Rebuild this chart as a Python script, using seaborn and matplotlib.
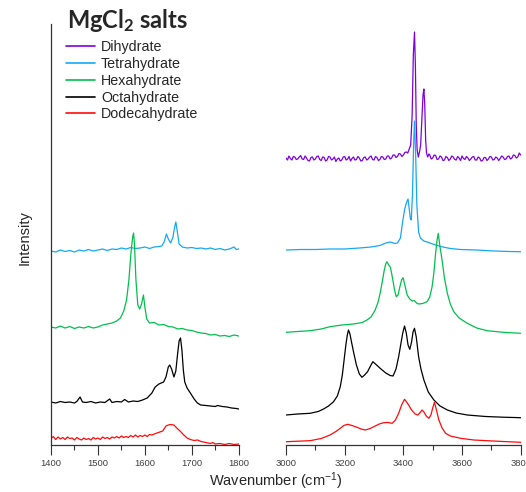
import pandas as pd
import matplotlib
matplotlib.use("Agg")
import matplotlib.pyplot as plt
import seaborn as sns
from matplotlib.lines import Line2D
from matplotlib.ticker import MultipleLocator

# Raman spectra of MgCl2 hydrates (stacked, arbitrary units)
salt_names = ["Dihydrate", "Tetrahydrate", "Hexahydrate", "Octahydrate", "Dodecahydrate"]
salt_colors = ["#7F00DF", "#14A9F5", "#00C04E", "#000000", "#FF0A0A"]

# bending region 1400-1800 cm-1 (no dihydrate trace here)
tetra_low = [(1400, 194), (1410, 193), (1420, 195), (1430, 193.5), (1440, 194.5), (1450, 193),
             (1460, 195), (1470, 194), (1480, 195.5), (1490, 194), (1500, 195), (1510, 196),
             (1520, 194.5), (1530, 196), (1540, 195.5), (1550, 197), (1560, 196), (1570, 197.5),
             (1580, 196.5), (1590, 197), (1600, 198), (1610, 196.5), (1620, 198), (1630, 198.5),
             (1636, 199), (1641, 203), (1646, 211), (1650, 206), (1655, 202), (1660, 208),
             (1663, 217), (1666, 223), (1669, 214), (1673, 201), (1680, 198), (1690, 197),
             (1700, 197.5), (1710, 196.5), (1720, 197), (1730, 196), (1740, 197), (1750, 195.5),
             (1760, 196.5), (1770, 195), (1780, 196), (1790, 198), (1795, 195.5), (1800, 196)]

hexa_low = [(1400, 118), (1410, 117), (1420, 119), (1430, 117), (1440, 118.5), (1450, 116.5),
            (1460, 118), (1470, 117), (1480, 118.5), (1490, 117), (1500, 118), (1510, 120),
            (1520, 121), (1530, 122), (1540, 124), (1548, 127), (1555, 134), (1561, 145),
            (1566, 165), (1570, 190), (1574, 208), (1576, 212), (1578, 200), (1581, 165),
            (1585, 140), (1589, 136), (1593, 141), (1597, 150), (1600, 138), (1604, 126),
            (1610, 122), (1620, 122.5), (1630, 120), (1640, 120.5), (1650, 118.5), (1660, 118),
            (1670, 116), (1680, 116.5), (1690, 115), (1700, 114.5), (1710, 113), (1720, 112),
            (1730, 111.5), (1740, 110), (1750, 110.5), (1760, 109), (1770, 109.5), (1780, 108.5),
            (1790, 110), (1800, 109)]

octa_low = [(1400, 43), (1410, 42), (1420, 43.5), (1430, 42.5), (1440, 43), (1450, 42),
            (1455, 43.5), (1462, 48), (1467, 43), (1475, 42.5), (1485, 43.5), (1495, 42),
            (1505, 43), (1515, 42.5), (1525, 46), (1530, 42.5), (1540, 43.5), (1550, 43),
            (1557, 45.5), (1565, 43), (1575, 44), (1585, 43.5), (1595, 45), (1605, 47),
            (1615, 52), (1622, 58), (1630, 61), (1640, 63), (1645, 68), (1650, 78), (1653, 80),
            (1657, 76), (1662, 68), (1666, 74), (1670, 92), (1673, 104), (1676, 107), (1679, 95),
            (1682, 75), (1685, 63), (1690, 57), (1697, 52), (1705, 46), (1712, 42), (1719, 40),
            (1730, 39.5), (1740, 39), (1750, 38.5), (1755, 39.5), (1765, 38.5), (1775, 38),
            (1785, 37), (1795, 36.5), (1800, 36)]

dodeca_low = [(1400, 6.5), (1405, 8.5), (1410, 5.5), (1415, 8), (1420, 6), (1425, 7.5),
              (1430, 5.5), (1435, 8), (1440, 6.5), (1445, 7), (1450, 5), (1455, 7.5), (1460, 6),
              (1465, 5), (1470, 7), (1475, 5.5), (1480, 6.5), (1485, 5), (1490, 7.5), (1495, 6),
              (1500, 7), (1505, 5.5), (1510, 8), (1515, 6.5), (1520, 7.5), (1525, 6), (1530, 8),
              (1535, 7), (1540, 8.5), (1545, 7), (1550, 9), (1555, 7.5), (1560, 8.5), (1565, 7.5),
              (1570, 9.5), (1575, 8), (1580, 10), (1585, 8), (1590, 9.5), (1595, 8.5), (1600, 10),
              (1605, 8.5), (1610, 10.5), (1615, 10), (1620, 11), (1626, 12), (1632, 13), (1638, 14),
              (1645, 19), (1650, 20), (1655, 20.5), (1662, 20), (1668, 17), (1676, 13.5),
              (1683, 10), (1690, 7), (1697, 5.5), (1705, 4.5), (1712, 5), (1720, 3.5), (1730, 2.5),
              (1740, 1.5), (1745, 2.5), (1750, 1), (1760, 1.5), (1770, 0.5), (1780, 1.5),
              (1790, 0.5), (1800, 1)]

# O-H stretching region 3000-3800 cm-1
di_high = [(3000, 287), (3005, 285), (3010, 289), (3015, 286.5), (3020, 285), (3025, 288.5),
           (3030, 288), (3035, 285.5), (3040, 286), (3045, 288), (3050, 289.5), (3055, 286),
           (3060, 285.5), (3065, 289), (3070, 287), (3075, 284.5), (3080, 284), (3085, 287.5),
           (3090, 288), (3095, 285), (3100, 286), (3105, 288.5), (3110, 289), (3115, 285.5),
           (3120, 284.5), (3125, 288), (3130, 287.5), (3135, 284), (3140, 285), (3145, 288.5),
           (3150, 288), (3155, 285), (3160, 286), (3165, 288), (3170, 283.5), (3175, 286),
           (3180, 287), (3185, 284), (3190, 285), (3195, 288), (3200, 288.5), (3205, 285),
           (3210, 286), (3215, 288.5), (3220, 284), (3225, 286.5), (3230, 288), (3235, 285),
           (3240, 285.5), (3245, 288.5), (3250, 287), (3255, 284), (3260, 284.5), (3265, 287.5),
           (3270, 288), (3275, 285), (3280, 286), (3285, 288), (3290, 289), (3295, 285.5),
           (3300, 285), (3305, 288.5), (3310, 287.5), (3315, 284.5), (3320, 285.5), (3325, 288.5),
           (3330, 288), (3335, 285.5), (3340, 286), (3345, 289), (3350, 289), (3355, 286),
           (3360, 287), (3365, 290), (3370, 290), (3375, 287.5), (3380, 288.5), (3385, 291.5),
           (3390, 291), (3395, 288.5), (3400, 290), (3405, 292.5), (3410, 293), (3415, 292),
           (3420, 296), (3425, 300), (3430, 330), (3434, 390), (3438, 413), (3441, 380),
           (3444, 320), (3447, 295), (3451, 288), (3455, 293), (3459, 300), (3463, 325),
           (3467, 350), (3470, 356), (3473, 340), (3476, 305), (3479, 292), (3483, 288),
           (3487, 291), (3490, 290), (3495, 286), (3500, 287), (3505, 290), (3510, 289.5),
           (3515, 285.5), (3520, 286), (3525, 289), (3530, 288), (3535, 284.5), (3540, 285),
           (3545, 288.5), (3550, 287.5), (3555, 284.5), (3560, 286), (3565, 289), (3570, 288),
           (3575, 285.5), (3580, 285), (3585, 288.5), (3590, 287), (3595, 284.5), (3600, 289),
           (3605, 286.5), (3610, 285.5), (3615, 288.5), (3620, 287), (3625, 284.5), (3630, 286),
           (3635, 288), (3640, 288.5), (3645, 285), (3650, 285), (3655, 288), (3660, 287),
           (3665, 284), (3670, 284.5), (3675, 287.5), (3680, 287.5), (3685, 284.5), (3690, 286),
           (3695, 288.5), (3700, 288), (3705, 285), (3710, 285.5), (3715, 288), (3720, 287),
           (3725, 284.5), (3730, 286.5), (3735, 289), (3740, 288), (3745, 285.5), (3750, 286),
           (3755, 288.5), (3760, 289), (3765, 286), (3770, 287), (3775, 290), (3780, 289.5),
           (3785, 287), (3790, 288), (3795, 292), (3800, 290)]

tetra_high = [(3000, 195), (3050, 195.5), (3100, 195.5), (3150, 196), (3200, 196), (3250, 197),
              (3290, 198), (3320, 199.5), (3340, 202), (3356, 203), (3370, 201.5), (3380, 202),
              (3390, 207), (3397, 222), (3404, 235), (3410, 242), (3416, 246), (3420, 236),
              (3424, 226), (3427, 225), (3431, 250), (3435, 300), (3438, 324), (3442, 290),
              (3446, 240), (3452, 213), (3458, 207), (3470, 204), (3481, 203), (3500, 201),
              (3527, 198.5), (3560, 196.5), (3595, 195.5), (3650, 195), (3708, 194),
              (3760, 193.5), (3800, 193.3)]

hexa_high = [(3000, 112.7), (3040, 113.5), (3082, 114.3), (3120, 116), (3150, 118.3), (3190, 120),
             (3230, 121), (3260, 122.5), (3276, 125), (3290, 128), (3304, 135), (3314, 143),
             (3321, 152), (3328, 163), (3335, 175), (3340, 181), (3344, 183.3), (3350, 180),
             (3356, 177.7), (3363, 167), (3370, 155), (3376, 148.3), (3382, 150), (3388, 158),
             (3394, 165), (3399, 167.3), (3405, 160), (3413, 150), (3422, 146), (3430, 144),
             (3438, 144.3), (3445, 142), (3452, 141), (3466, 141.5), (3481, 143.3), (3490, 148),
             (3498, 158.3), (3504, 172), (3510, 192), (3515, 205), (3519, 211.7), (3524, 200),
             (3532, 185), (3540, 167), (3550, 151.7), (3560, 141), (3572, 133.3), (3590, 127),
             (3618, 121.7), (3650, 117), (3686, 114.3), (3740, 112.7), (3800, 111.7)]

octa_high = [(3000, 30), (3040, 31), (3082, 31.7), (3110, 33.5), (3128, 36), (3145, 39),
             (3162, 43.3), (3175, 49), (3185, 58.3), (3192, 70), (3198, 85), (3204, 100),
             (3209, 110), (3213, 115), (3218, 111), (3224, 102), (3230, 93.3), (3240, 80),
             (3250, 71), (3259, 67.7), (3268, 70), (3278, 73.3), (3288, 79), (3296, 83.3),
             (3305, 81), (3321, 76.7), (3340, 72), (3355, 69.5), (3365, 69), (3375, 76),
             (3384, 88.3), (3392, 102), (3398, 112), (3404, 119), (3410, 112), (3416, 100),
             (3422, 95.7), (3428, 103), (3433, 113), (3438, 116.7), (3444, 108), (3452, 88.3),
             (3460, 76), (3470, 65), (3485, 53), (3504, 45), (3525, 39), (3550, 35), (3580, 32),
             (3618, 30), (3680, 28.5), (3740, 27.8), (3800, 27.3)]

dodeca_high = [(3000, 3.3), (3040, 3.8), (3082, 4.3), (3120, 6.5), (3150, 10), (3170, 13.5),
               (3185, 16.7), (3197, 19.5), (3210, 20.7), (3225, 19.5), (3242, 17.7), (3256, 16),
               (3270, 15), (3287, 16.5), (3304, 19), (3318, 21), (3333, 22.3), (3348, 22.5),
               (3362, 21.7), (3373, 25), (3384, 31.7), (3394, 40), (3404, 45.7), (3411, 43),
               (3418, 40), (3428, 35), (3440, 31), (3449, 30), (3456, 32), (3464, 35), (3470, 33),
               (3478, 29), (3487, 26.7), (3494, 30), (3500, 37), (3506, 42.7), (3512, 36),
               (3521, 25), (3532, 17), (3544, 11.7), (3560, 9), (3595, 6.7), (3640, 5),
               (3686, 4.3), (3740, 3.5), (3800, 2.7)]


def to_frame(pairs, name):
    df = pd.DataFrame(pairs, columns=["wavenumber", "intensity"])
    df["salt"] = name
    return df


low = pd.concat([to_frame(tetra_low, "Tetrahydrate"), to_frame(hexa_low, "Hexahydrate"),
                 to_frame(octa_low, "Octahydrate"), to_frame(dodeca_low, "Dodecahydrate")])
high = pd.concat([to_frame(di_high, "Dihydrate"), to_frame(tetra_high, "Tetrahydrate"),
                  to_frame(hexa_high, "Hexahydrate"), to_frame(octa_high, "Octahydrate"),
                  to_frame(dodeca_high, "Dodecahydrate")])

sns.set_style("white")
plt.rcParams["font.family"] = ["Liberation Sans", "DejaVu Sans"]
plt.rcParams["mathtext.fontset"] = "custom"
plt.rcParams["mathtext.rm"] = "Liberation Sans"
plt.rcParams["mathtext.it"] = "Liberation Sans:italic"
plt.rcParams["mathtext.bf"] = "Lato:bold"

palette = dict(zip(salt_names, salt_colors))

W, H = 526, 492
fig = plt.figure(figsize=(W / 100, H / 100), dpi=100)
ax_low = fig.add_axes([51 / W, 46.7 / H, 187.7 / W, 421.3 / H])
ax_high = fig.add_axes([286 / W, 46.7 / H, 234.7 / W, 421.3 / H])

sns.lineplot(data=low, x="wavenumber", y="intensity", hue="salt", hue_order=salt_names[1:],
             palette=palette, estimator=None, sort=False, linewidth=0.9, legend=False, ax=ax_low)
sns.lineplot(data=high, x="wavenumber", y="intensity", hue="salt", hue_order=salt_names,
             palette=palette, estimator=None, sort=False, linewidth=0.9, legend=False, ax=ax_high)

ax_low.set_xlim(1400, 1800)
ax_high.set_xlim(3000, 3800)
for ax in (ax_low, ax_high):
    ax.set_ylim(-0.3, 421)
    ax.set_xlabel("")
    ax.set_ylabel("")
    ax.set_yticks([])
    ax.tick_params(axis="x", which="major", direction="out", length=7.2, width=0.8,
                   color="#333333", labelsize=6.8, labelcolor="#404040", pad=3, bottom=True)
    ax.tick_params(axis="x", which="minor", direction="out", length=3.6, width=0.8,
                   color="#333333", bottom=True)
    for side in ("top", "right"):
        ax.spines[side].set_visible(False)
    for side in ("left", "bottom"):
        ax.spines[side].set_color("#333333")
        ax.spines[side].set_linewidth(0.9)
    ax.patch.set_alpha(0)

ax_low.set_xticks([1400, 1500, 1600, 1700, 1800])
ax_low.xaxis.set_minor_locator(MultipleLocator(50))
ax_high.set_xticks([3000, 3200, 3400, 3600, 3800])
ax_high.xaxis.set_minor_locator(MultipleLocator(100))
ax_high.spines["left"].set_visible(False)

fig.text(25 / W, 1 - 238 / H, "Intensity", rotation=90, ha="center", va="center", fontsize=10.5)
fig.text(276 / W, 10.5 / H, "Wavenumber (cm$^{-1}$)", ha="center", va="center", fontsize=10.5)
fig.text(67 / W, 1 - 27.5 / H, r"MgCl$_{\mathbf{2}}$ salts", family="Lato", fontweight="bold",
         fontsize=17, ha="left", va="baseline")

handles = [Line2D([], [], color=c, linewidth=1.2) for c in salt_colors]
fig.legend(handles, salt_names, loc="upper left", bbox_to_anchor=(66 / W, 1 - 40 / H),
           frameon=False, fontsize=10.3, handlelength=2.0, handletextpad=0.45,
           labelspacing=0.2, borderpad=0, borderaxespad=0)

fig.savefig("out.png", dpi=100)
